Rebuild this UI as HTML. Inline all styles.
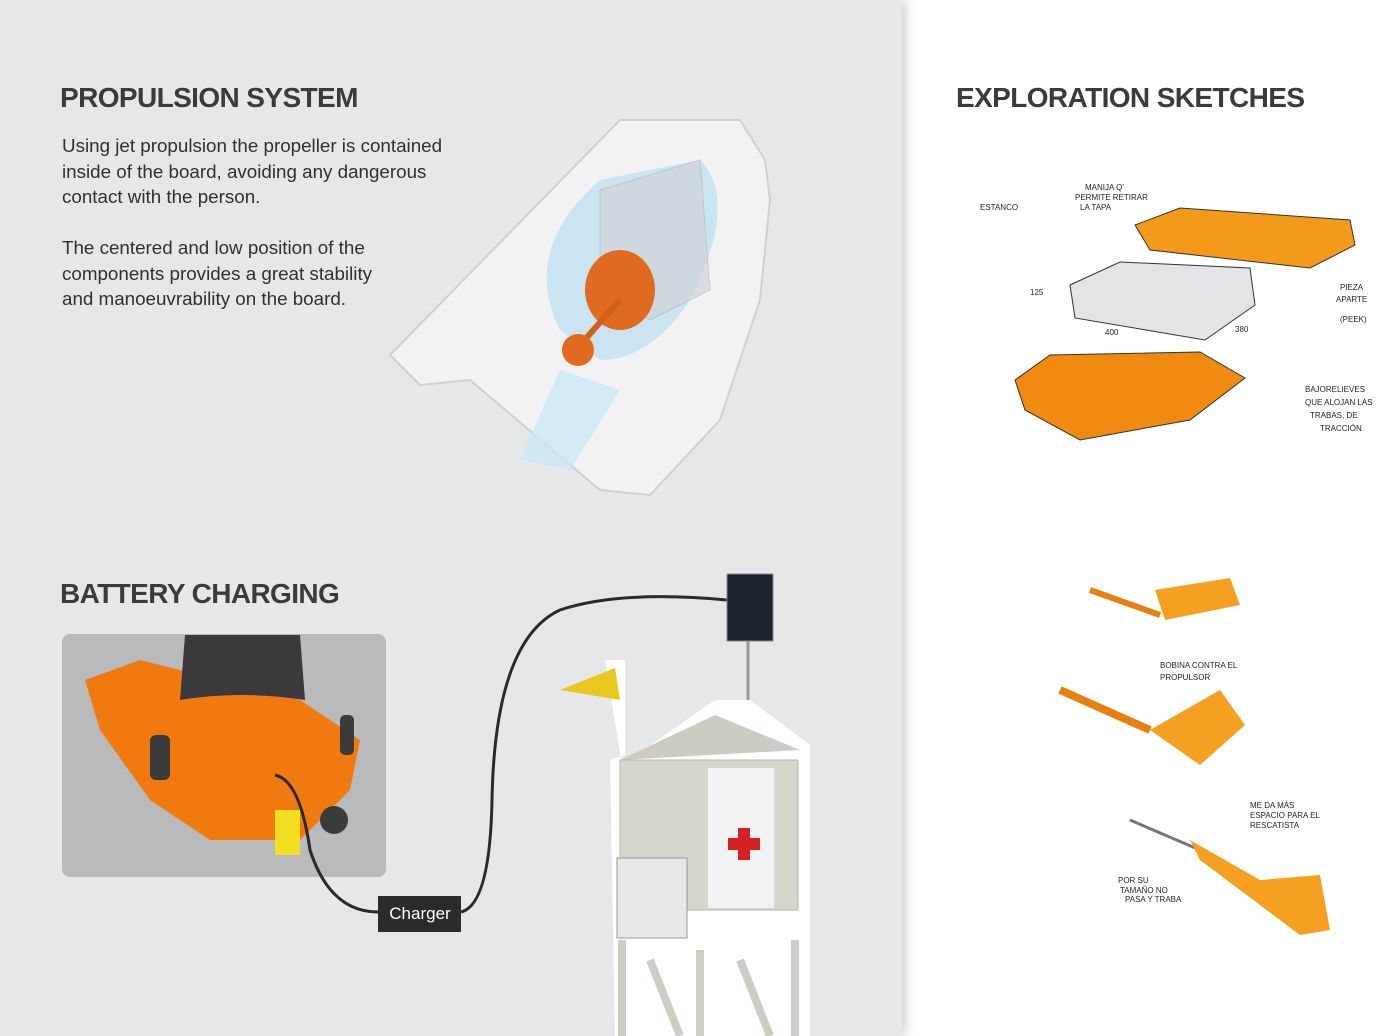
<!DOCTYPE html>
<html><head><meta charset="utf-8"><style>
html,body{margin:0;padding:0}
body{width:1400px;height:1036px;position:relative;overflow:hidden;background:#fff;font-family:"Liberation Sans",sans-serif}
.left{position:absolute;left:0;top:0;width:902px;height:1036px;background:#e6e7e9;box-shadow:4px 0 10px rgba(0,0,0,.18)}
h1{position:absolute;margin:0;font-size:28px;font-weight:bold;color:#3a3b3d;letter-spacing:-0.6px}
.p{position:absolute;left:62px;font-size:18.8px;line-height:25.5px;color:#2f3032}
</style></head><body>
<div class="left"></div>
<h1 style="left:60px;top:82px">PROPULSION SYSTEM</h1>
<div class="p" style="top:133px">Using jet propulsion the propeller is contained<br>inside of the board, avoiding any dangerous<br>contact with the person.</div>
<div class="p" style="top:235px">The centered and low position of the<br>components provides a great stability<br>and manoeuvrability on the board.</div>
<h1 style="left:60px;top:578px">BATTERY CHARGING</h1>
<h1 style="left:956px;top:82px">EXPLORATION SKETCHES</h1>

<svg width="1400" height="1036" style="position:absolute;left:0;top:0">
<polygon points="390,355 620,120 740,120 765,160 770,200 760,300 720,420 650,495 600,490 470,380 420,385" fill="#f2f2f4" stroke="#cfcfd4" stroke-width="2"/>
<path d="M560,330 Q520,250 600,180 L700,160 Q740,200 690,300 Q650,360 600,360 Z" fill="#bfe0f0" opacity=".8"/>
<polygon points="520,460 560,370 620,390 570,470" fill="#cbe6f4" opacity=".8"/>
<polygon points="600,190 700,160 710,290 650,320 600,300" fill="#d2d4d8" opacity=".7" stroke="#b8bac0"/>
<ellipse cx="620" cy="290" rx="35" ry="40" fill="#e06a20"/>
<line x1="620" y1="300" x2="580" y2="345" stroke="#d0601c" stroke-width="6"/>
<circle cx="578" cy="350" r="16" fill="#e06a20"/>
<rect x="62" y="634" width="324" height="243" rx="8" fill="#b9babc"/>
<path d="M85,680 L140,660 L300,700 L360,740 L350,790 L300,840 L210,840 L150,800 L100,730 Z" fill="#f07a10"/>
<path d="M180,700 L185,635 L300,635 L305,700 Q240,690 180,700 Z" fill="#3a3a3c"/>
<rect x="150" y="735" width="20" height="45" rx="6" fill="#3b3b3b"/>
<rect x="340" y="715" width="14" height="40" rx="5" fill="#3b3b3b"/>
<circle cx="334" cy="820" r="14" fill="#3b3b3b"/>
<rect x="275" y="810" width="25" height="45" fill="#f2e020"/>
<path d="M275,775 Q300,780 310,850 Q330,912 378,912 M461,912 Q490,905 492,800 Q495,640 560,610 Q620,590 727,600" fill="none" stroke="#2a2a2a" stroke-width="3"/>
<rect x="378" y="896" width="83" height="36" fill="#2b2b2b"/>
<text x="420" y="919" font-size="17" fill="#fff" text-anchor="middle" font-family="Liberation Sans">Charger</text>
<rect x="727" y="574" width="46" height="67" fill="#1d2230" stroke="#888" stroke-width="1"/>
<line x1="748" y1="641" x2="748" y2="715" stroke="#999" stroke-width="3"/>
<polygon points="605,660 625,660 625,755 610,760 615,1036 810,1036 810,745 750,700 715,700 622,765" fill="#fff"/>
<polygon points="560,690 615,668 620,700" fill="#e8c820"/>
<polygon points="620,760 715,715 800,750 620,760" fill="#cfcbc2"/>
<rect x="620" y="760" width="178" height="150" fill="#d8d5cc" stroke="#b9b5aa"/>
<rect x="708" y="768" width="66" height="140" fill="#f2f2f2"/>
<path d="M738,828 h12 v10 h10 v12 h-10 v10 h-12 v-10 h-10 v-12 h10 z" fill="#d42020"/>
<rect x="617" y="858" width="70" height="80" fill="#e8e8e8" stroke="#999"/>
<path d="M622,940 L622,1036 M650,960 L680,1036 M700,950 L700,1036 M740,960 L770,1036 M795,940 L795,1036" stroke="#cfccc4" stroke-width="8"/>
<polygon points="1135,225 1180,208 1350,220 1355,245 1310,268 1150,250" fill="#f49a1a" stroke="#333"/>
<polygon points="1070,285 1120,262 1250,268 1255,305 1205,340 1075,318" fill="#e4e4e8" stroke="#333"/>
<polygon points="1015,380 1050,355 1200,352 1245,378 1190,420 1080,440 1025,410" fill="#f08a10" stroke="#333"/>
<g font-family="Liberation Sans" font-size="8" fill="#223">
<text x="1085" y="190">MANIJA Q'</text><text x="1075" y="200">PERMITE RETIRAR</text><text x="1080" y="210">LA TAPA</text>
<text x="980" y="210">ESTANCO</text><text x="1030" y="295">125</text><text x="1105" y="335">400</text><text x="1235" y="332">380</text>
<text x="1340" y="290">PIEZA</text><text x="1336" y="302">APARTE</text><text x="1340" y="322">(PEEK)</text>
<text x="1305" y="392">BAJORELIEVES</text><text x="1305" y="405">QUE ALOJAN LAS</text><text x="1310" y="418">TRABAS, DE</text><text x="1320" y="431">TRACCIÓN</text>
<text x="1160" y="668">BOBINA CONTRA EL</text><text x="1160" y="680">PROPULSOR</text>
<text x="1250" y="808">ME DA MÁS</text><text x="1250" y="818">ESPACIO PARA EL</text><text x="1250" y="828">RESCATISTA</text>
<text x="1118" y="883">POR SU</text><text x="1120" y="893">TAMAÑO NO</text><text x="1125" y="902">PASA Y TRABA</text>
</g>
<polygon points="1155,590 1230,578 1240,605 1165,620" fill="#f5a020"/>
<line x1="1090" y1="590" x2="1160" y2="615" stroke="#e88010" stroke-width="6"/>
<polygon points="1150,730 1220,690 1245,725 1200,765" fill="#f5a020"/>
<line x1="1060" y1="690" x2="1150" y2="730" stroke="#e88010" stroke-width="8"/>
<line x1="1130" y1="820" x2="1200" y2="850" stroke="#777" stroke-width="3"/>
<polygon points="1190,840 1260,880 1320,875 1330,930 1300,935 1200,860" fill="#f5a020"/>
</svg>
</body></html>
